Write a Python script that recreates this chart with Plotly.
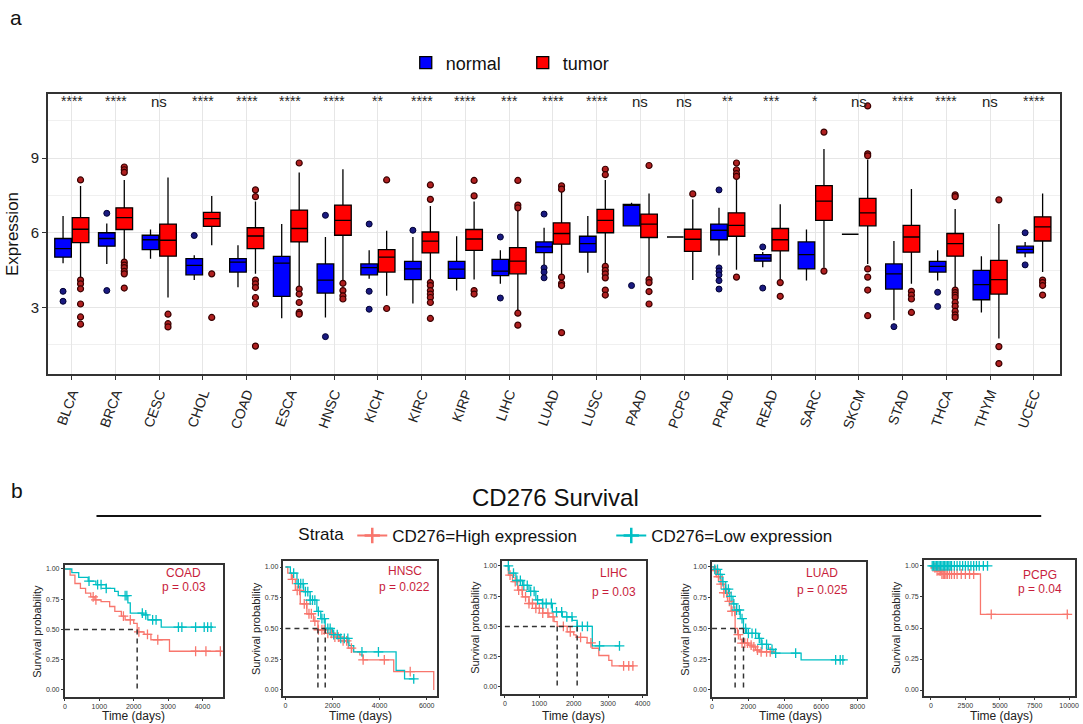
import plotly.graph_objects as go
import numpy as np

W, H = 1083, 724
def px(x): return x / W
def py(y): return 1 - y / H

FONT = "Liberation Sans, Arial, sans-serif"
NARROW = "Liberation Sans Narrow, Arial Narrow, Liberation Sans, sans-serif"

# ---------------- Panel a data ----------------
cats = ["BLCA", "BRCA", "CESC", "CHOL", "COAD", "ESCA", "HNSC", "KICH", "KIRC", "KIRP", "LIHC",
        "LUAD", "LUSC", "PAAD", "PCPG", "PRAD", "READ", "SARC", "SKCM", "STAD", "THCA", "THYM", "UCEC"]
signif = ["****", "****", "ns", "****", "****", "****", "****", "**", "****", "****", "***",
          "****", "****", "ns", "ns", "**", "***", "*", "ns", "****", "****", "ns", "****"]

normal_lo = [4.78, 4.75, 4.96, 4.10, 3.81, 2.57, 2.60, 4.15, 3.16, 3.68, 3.95, 4.71, 4.39, 6.28, 5.83, 5.09, 4.62, 4.08, 5.94, 2.49, 4.08, 2.80, 5.02]
normal_q1 = [5.02, 5.46, 5.32, 4.31, 4.42, 3.45, 3.58, 4.31, 4.12, 4.17, 4.28, 5.20, 5.22, 6.28, 5.83, 5.72, 4.86, 4.55, 5.94, 3.74, 4.42, 3.31, 5.19]
normal_med = [5.36, 5.77, 5.72, 4.69, 4.82, 4.78, 4.10, 4.60, 4.55, 4.54, 4.46, 5.43, 5.56, 7.10, 5.83, 6.10, 4.98, 5.12, 5.94, 4.35, 4.65, 3.92, 5.33]
normal_q3 = [5.77, 6.00, 5.90, 4.96, 4.96, 5.05, 4.75, 4.75, 4.85, 4.85, 4.93, 5.63, 5.86, 7.14, 5.83, 6.35, 5.12, 5.63, 5.94, 4.75, 4.85, 4.49, 5.46]
normal_hi = [6.67, 6.37, 6.13, 5.10, 5.50, 6.35, 5.83, 5.30, 5.83, 5.86, 5.30, 6.20, 6.67, 7.20, 5.83, 7.00, 5.23, 6.13, 5.94, 5.67, 5.30, 5.06, 5.63]
normal_out = [[3.65, 3.25], [6.78, 3.68], [], [5.89], [], [], [6.70, 1.83], [6.35, 3.65, 2.93],
              [6.10], [], [5.83, 3.38], [6.75, 4.59, 4.42, 4.19], [], [3.88], [],
              [7.72, 4.59, 4.46, 4.31, 4.08, 3.74], [5.43, 3.78], [], [], [2.23], [3.61, 3.04], [], [6.00, 4.71]]

tumor_lo = [4.20, 4.90, 3.40, 5.50, 4.35, 3.81, 4.08, 3.47, 4.05, 4.12, 2.87, 4.28, 4.73, 4.22, 4.10, 4.51, 4.08, 4.60, 4.75, 3.95, 3.78, 1.76, 4.42]
tumor_q1 = [5.60, 6.13, 5.06, 6.26, 5.36, 5.63, 5.90, 4.42, 5.19, 5.29, 4.35, 5.54, 6.00, 5.81, 5.25, 5.86, 5.27, 6.50, 6.28, 5.22, 5.06, 3.54, 5.67]
tumor_med = [6.14, 6.61, 5.70, 6.57, 5.87, 6.17, 6.50, 5.02, 5.66, 5.75, 4.86, 5.97, 6.50, 6.35, 5.74, 6.30, 5.72, 7.27, 6.80, 5.83, 5.56, 4.12, 6.24]
tumor_q3 = [6.61, 7.00, 6.35, 6.82, 6.20, 6.91, 7.11, 5.32, 6.03, 6.13, 5.40, 6.40, 6.94, 6.75, 6.14, 6.80, 6.17, 7.89, 7.38, 6.30, 5.97, 4.89, 6.64]
tumor_hi = [7.88, 8.12, 8.22, 7.48, 7.25, 8.42, 8.55, 6.08, 7.07, 7.25, 6.90, 7.65, 8.12, 7.58, 7.34, 8.15, 7.14, 9.36, 8.93, 7.76, 6.95, 6.35, 7.58]
tumor_out = [[8.12, 4.10, 3.95, 3.75, 3.14, 2.62, 2.33],
             [8.64, 8.53, 8.42, 4.82, 4.70, 4.60, 4.45, 4.35, 3.78],
             [2.73, 2.35, 2.22], [4.35, 2.60],
             [7.72, 7.45, 4.10, 3.95, 3.80, 3.40, 3.14, 1.45],
             [8.80, 3.74, 3.54, 3.20, 2.80, 2.73],
             [3.97, 3.68, 3.47, 3.34], [8.12, 2.96],
             [7.92, 7.34, 4.00, 3.88, 3.68, 3.54, 3.40, 3.20, 2.56],
             [8.10, 7.48, 3.68, 3.54], [8.10, 7.11, 7.00, 2.77, 2.29],
             [7.88, 7.75, 4.22, 3.97, 3.88, 1.99],
             [8.55, 8.33, 4.65, 4.49, 4.35, 4.19, 3.70, 3.50],
             [8.70, 4.12, 4.00, 3.64, 3.14], [7.56], [8.80, 8.53, 8.37, 8.26, 4.22],
             [4.00, 3.45], [10.04, 4.46], [11.09, 9.17, 9.09, 4.55, 4.22, 3.70, 2.67],
             [3.65, 3.50, 3.34, 2.80],
             [7.52, 7.45, 3.70, 3.60, 3.50, 3.40, 3.20, 3.05, 2.85, 2.70, 2.60],
             [7.32, 1.43, 0.75], [4.10, 4.00, 3.88, 3.50]]

# ---------------- Panel b data ----------------
surv_names = ["COAD", "HNSC", "LIHC", "LUAD", "PCPG"]
surv_pvals = ["p = 0.03", "p = 0.022", "p = 0.03", "p = 0.025", "p = 0.04"]

high_t = [
    [0, 150, 290, 450, 600, 750, 870, 1050, 1300, 1450, 1640, 1750, 2000, 2100, 2300, 2500, 3040, 4550],
    [0, 100, 250, 420, 630, 910, 1190, 1380, 1700, 2040, 2320, 2670, 2880, 3160, 3300, 4600, 6300],
    [0, 100, 220, 370, 510, 700, 900, 1100, 1280, 1430, 1520, 1810, 2000, 2070, 2390, 2535, 2730, 3020, 3110, 3740],
    [0, 100, 250, 450, 650, 850, 1050, 1270, 1400, 1550, 1650, 2000, 2200, 2400, 2600, 3300],
    [0, 60, 430, 790, 3590, 10000],
]
high_s = [
    [1.0, 0.95, 0.88, 0.84, 0.80, 0.77, 0.745, 0.73, 0.69, 0.65, 0.61, 0.58, 0.55, 0.48, 0.46, 0.415, 0.32, 0.32],
    [1.0, 0.95, 0.90, 0.81, 0.70, 0.62, 0.56, 0.49, 0.46, 0.43, 0.40, 0.34, 0.31, 0.285, 0.245, 0.15, 0.0],
    [1.0, 0.925, 0.87, 0.80, 0.745, 0.69, 0.65, 0.61, 0.58, 0.54, 0.50, 0.455, 0.43, 0.41, 0.365, 0.32, 0.26, 0.22, 0.175, 0.175],
    [1.0, 0.97, 0.92, 0.86, 0.79, 0.72, 0.64, 0.50, 0.45, 0.41, 0.38, 0.365, 0.35, 0.325, 0.31, 0.31],
    [1.0, 0.985, 0.96, 0.935, 0.61, 0.61],
]
low_t = [
    [0, 200, 400, 675, 900, 1200, 1446, 1550, 1830, 1900, 2265, 2410, 2800, 4300],
    [0, 210, 490, 770, 1050, 1335, 1500, 1690, 2000, 2300, 2700, 2900, 4700, 5060, 5480],
    [0, 125, 320, 510, 700, 900, 1090, 1380, 1670, 1960, 2100, 2540, 3350],
    [0, 150, 350, 550, 750, 950, 1150, 1350, 1550, 1730, 1900, 2550, 2700, 3100, 3400, 4900, 7300],
    [0, 4140],
]
low_s = [
    [1.0, 0.97, 0.93, 0.90, 0.87, 0.84, 0.815, 0.78, 0.72, 0.635, 0.62, 0.58, 0.52, 0.52],
    [1.0, 0.95, 0.865, 0.80, 0.73, 0.64, 0.58, 0.50, 0.45, 0.42, 0.36, 0.31, 0.16, 0.09, 0.09],
    [1.0, 0.94, 0.88, 0.84, 0.79, 0.72, 0.69, 0.62, 0.58, 0.55, 0.50, 0.34, 0.34],
    [1.0, 0.98, 0.94, 0.88, 0.82, 0.76, 0.70, 0.65, 0.58, 0.50, 0.46, 0.42, 0.37, 0.33, 0.30, 0.245, 0.245],
    [1.0, 1.0],
]
high_cens = [
    [820, 900, 1700, 1900, 2150, 2400, 2700, 3800, 4100, 4520],
    [300, 500, 600, 800, 900, 1000, 1100, 1250, 1400, 1550, 1650, 1800, 1950, 2100, 2250, 2450, 2600, 2800, 3300, 4200, 5300],
    [150, 300, 400, 500, 600, 700, 800, 900, 1000, 1100, 1250, 1400, 1700, 1900, 2200, 2500, 3450, 3600, 3720],
    [200, 350, 500, 650, 800, 950, 1100, 1250, 1450, 1650, 1800, 1950, 2150, 2300, 2500, 2700, 3000, 3200],
    [300, 450, 600, 700, 800, 900, 1000, 1100, 1200, 1350, 1500, 1700, 1900, 2200, 2500, 2800, 3100, 4370, 9870],
]
low_cens = [
    [700, 950, 1050, 1200, 1750, 1800, 2250, 2350, 2550, 2650, 3300, 3400, 3800, 4050, 4150, 4250],
    [350, 550, 650, 750, 850, 950, 1050, 1150, 1250, 1400, 1550, 1650, 1800, 1900, 2050, 2200, 2350, 2500, 2650, 3250, 3950, 5450],
    [100, 250, 350, 450, 550, 650, 750, 850, 950, 1100, 1200, 1350, 1500, 1650, 1800, 1950, 2100, 2250, 2400, 2750, 3330],
    [150, 300, 450, 600, 750, 900, 1050, 1200, 1350, 1500, 1650, 1850, 2000, 2200, 2400, 2600, 2750, 3000, 3300, 3500, 4600, 6800, 7050, 7200],
    [100, 200, 300, 400, 500, 600, 700, 800, 900, 1000, 1100, 1200, 1300, 1400, 1500, 1700, 1900, 2100, 2300, 2500, 2700, 2900, 3100, 3300, 3500, 3800, 4100],
]
medians = [[2100], [1380, 1690], [1520, 2100], [1270, 1730], []]
x_ticks = [[0, 1000, 2000, 3000, 4000], [0, 2000, 4000, 6000], [0, 1000, 2000, 3000, 4000],
           [0, 2000, 4000, 6000, 8000], [0, 2500, 5000, 7500, 10000]]
x_ranges = [[-9, 4590], [-85, 6420], [-78, 4113], [0, 8480], [-504, 10430]]
y_ticks = [0, 0.25, 0.5, 0.75, 1.0]

# layout geometry (pixels)
frames = [(63, 222, 565, 697), (283, 437, 561, 696), (503, 648, 561, 694), (714, 869, 562, 697), (927, 1079, 560, 696)]
y_ranges = [[-0.058, 1.033], [-0.049, 1.049], [-0.058, 1.041], [-0.057, 1.04], [-0.048, 1.048]]

RED = "#F8766D"
CYAN = "#00BFC4"
PCOL = "#C81E3C"

fig = go.Figure()

# ---------------- Panel a traces ----------------
xs = np.arange(len(cats))
fig.add_trace(go.Box(x=xs - 0.2, q1=normal_q1, median=normal_med, q3=normal_q3,
                     lowerfence=normal_lo, upperfence=normal_hi, width=0.38,
                     fillcolor="#0000FF", line=dict(color="black", width=1.3), whiskerwidth=0,
                     name="normal", boxpoints=False, xaxis="x", yaxis="y", legend="legend"))
fig.add_trace(go.Box(x=xs + 0.2, q1=tumor_q1, median=tumor_med, q3=tumor_q3,
                     lowerfence=tumor_lo, upperfence=tumor_hi, width=0.38,
                     fillcolor="#FF0000", line=dict(color="black", width=1.3), whiskerwidth=0,
                     name="tumor", boxpoints=False, xaxis="x", yaxis="y", legend="legend"))

nx, ny, tx, ty = [], [], [], []
for i in range(len(cats)):
    for v in normal_out[i]:
        nx.append(i - 0.2); ny.append(v)
    for v in tumor_out[i]:
        tx.append(i + 0.2); ty.append(v)
fig.add_trace(go.Scatter(x=nx, y=ny, mode="markers", showlegend=False, hoverinfo="skip",
                         marker=dict(size=6, color="#1A1A80", line=dict(color="#000033", width=1)),
                         xaxis="x", yaxis="y"))
fig.add_trace(go.Scatter(x=tx, y=ty, mode="markers", showlegend=False, hoverinfo="skip",
                         marker=dict(size=6, color="#B02020", line=dict(color="#3A0000", width=1.2)),
                         xaxis="x", yaxis="y"))

# ---------------- Panel b traces ----------------
def surv_at(t_arr, s_arr, t):
    idx = np.searchsorted(np.array(t_arr), np.array(t), side="right") - 1
    return list(np.array(s_arr)[idx])

for k in range(5):
    xa, ya = f"x{k + 2}", f"y{k + 2}"
    fig.add_trace(go.Scatter(x=high_t[k], y=high_s[k], mode="lines", line=dict(color=RED, width=1.3, shape="hv"),
                             showlegend=False, xaxis=xa, yaxis=ya, hoverinfo="skip"))
    fig.add_trace(go.Scatter(x=low_t[k], y=low_s[k], mode="lines", line=dict(color=CYAN, width=1.3, shape="hv"),
                             showlegend=False, xaxis=xa, yaxis=ya, hoverinfo="skip"))
    fig.add_trace(go.Scatter(x=high_cens[k], y=surv_at(high_t[k], high_s[k], high_cens[k]), mode="markers",
                             marker=dict(symbol="cross-thin", size=7, line=dict(color=RED, width=1.3)),
                             showlegend=False, xaxis=xa, yaxis=ya, hoverinfo="skip"))
    fig.add_trace(go.Scatter(x=low_cens[k], y=surv_at(low_t[k], low_s[k], low_cens[k]), mode="markers",
                             marker=dict(symbol="cross-thin", size=7, line=dict(color=CYAN, width=1.3)),
                             showlegend=False, xaxis=xa, yaxis=ya, hoverinfo="skip"))
    if medians[k]:
        mx = [0, max(medians[k])]
        my = [0.5, 0.5]
        for m in medians[k]:
            mx += [None, m, m]
            my += [None, 0.5, 0]
        fig.add_trace(go.Scatter(x=mx, y=my, mode="lines", line=dict(color="#333333", width=1.5, dash="5px,4px"),
                                 showlegend=False, xaxis=xa, yaxis=ya, hoverinfo="skip"))

# legend entries for strata
fig.add_trace(go.Scatter(x=[None], y=[None], mode="lines+markers", name="CD276=High expression",
                         line=dict(color=RED, width=2), marker=dict(symbol="cross-thin", size=11, line=dict(color=RED, width=2.5)),
                         legend="legend2", xaxis="x2", yaxis="y2"))
fig.add_trace(go.Scatter(x=[None], y=[None], mode="lines+markers", name="CD276=Low expression",
                         line=dict(color=CYAN, width=2), marker=dict(symbol="cross-thin", size=11, line=dict(color=CYAN, width=2.5)),
                         legend="legend2", xaxis="x2", yaxis="y2"))

# ---------------- Layout ----------------
layout = dict(
    width=W, height=H, margin=dict(l=0, r=0, t=0, b=0), autosize=False,
    paper_bgcolor="white", plot_bgcolor="white",
    font=dict(family=FONT, color="#222222"),
    showlegend=True,
    legend=dict(orientation="h", x=px(406), y=py(63), xanchor="left", yanchor="middle",
                font=dict(size=18, color="#111111"), bgcolor="rgba(0,0,0,0)", itemwidth=30,
                entrywidth=72, traceorder="normal"),
    legend2=dict(orientation="h", x=px(296), y=py(536), xanchor="left", yanchor="middle",
                 font=dict(size=17, family=NARROW, color="#111111"), bgcolor="rgba(0,0,0,0)",
                 entrywidth=214,
                 title=dict(text="Strata", font=dict(size=17, family=NARROW, color="#111111"))),
    xaxis=dict(domain=[px(46), px(1064)], range=[-0.55, 22.6], tickmode="array", tickvals=list(xs),
               ticktext=cats, tickangle=-70, ticks="outside", ticklen=4, tickcolor="#333333",
               tickfont=dict(size=14, color="#222222"), showgrid=True, gridcolor="#E6E6E6", gridwidth=1.2,
               showline=True, linecolor="#333333", linewidth=1.5, mirror=True, zeroline=False, anchor="y"),
    yaxis=dict(domain=[py(374), py(94)], range=[0.33, 11.57], tickmode="linear", tick0=0, dtick=3,
               ticks="outside", ticklen=4, tickcolor="#333333", tickfont=dict(size=15, color="#222222"),
               showgrid=True, gridcolor="#E6E6E6", gridwidth=1.2,
               minor=dict(dtick=1.5, tick0=0, showgrid=True, gridcolor="#F0F0F0", gridwidth=1, ticks=""),
               showline=True, linecolor="#333333", linewidth=1.5, mirror=True, zeroline=False, anchor="x",
               title=dict(text="Expression", font=dict(size=17, color="#111111"), standoff=8)),
)

annotations = []
shapes = []
for i, s in enumerate(signif):
    annotations.append(dict(x=i, y=py(101), xref="x", yref="paper", text=s, showarrow=False,
                            font=dict(size=15 if s == "ns" else 14, color="#222222"), xanchor="center", yanchor="middle"))

annotations.append(dict(x=px(6), y=py(18), xref="paper", yref="paper", text="a", showarrow=False,
                        font=dict(size=21, color="#111111"), xanchor="left", yanchor="middle"))
annotations.append(dict(x=px(7), y=py(490), xref="paper", yref="paper", text="b", showarrow=False,
                        font=dict(size=21, color="#111111"), xanchor="left", yanchor="middle"))
annotations.append(dict(x=px(557), y=py(497), xref="paper", yref="paper", text="CD276 Survival", showarrow=False,
                        font=dict(size=24, family=NARROW, color="#111111"), xanchor="center", yanchor="middle"))
shapes.append(dict(type="line", xref="paper", yref="paper", x0=px(95), x1=px(1045), y0=py(516), y1=py(516),
                   line=dict(color="#111111", width=2.2)))

label_pos = [(183, 573, 587), (405, 571, 587), (615, 573, 592), (825, 573, 590), (1044, 575, 589)]
time_cx = [132, 360, 575, 793, 1005]
for k in range(5):
    l, r, t, b = frames[k]
    layout[f"xaxis{k + 2}"] = dict(domain=[px(l), px(r)], range=x_ranges[k], tickmode="array", tickvals=x_ticks[k],
                                   ticktext=[str(v) for v in x_ticks[k]],
                                   ticks="outside", ticklen=2, tickcolor="#333333", tickfont=dict(size=7, color="#333333"),
                                   showgrid=False, zeroline=False, showline=True, linecolor="#333333", linewidth=1.5,
                                   mirror=True, anchor=f"y{k + 2}")
    layout[f"yaxis{k + 2}"] = dict(domain=[py(b), py(t)], range=y_ranges[k], tickmode="array",
                                   tickvals=y_ticks, ticktext=[f"{v:.2f}" for v in y_ticks],
                                   ticks="outside", ticklen=2, tickcolor="#333333", tickfont=dict(size=7, color="#333333"),
                                   showgrid=False, zeroline=False, showline=True, linecolor="#333333", linewidth=1.5,
                                   mirror=True, anchor=f"x{k + 2}")
    annotations.append(dict(x=px(l - 28), y=py((t + b) / 2), xref="paper", yref="paper", text="Survival probability",
                            textangle=-90, showarrow=False, font=dict(size=11, color="#222222"),
                            xanchor="center", yanchor="middle"))
    annotations.append(dict(x=px(time_cx[k]), y=py(716), xref="paper", yref="paper", text="Time (days)",
                            showarrow=False, font=dict(size=12, color="#222222"), xanchor="center", yanchor="middle"))
    lx, ly1, ly2 = label_pos[k]
    annotations.append(dict(x=px(lx), y=py(ly1), xref="paper", yref="paper", text=surv_names[k], showarrow=False,
                            font=dict(size=12, color=PCOL), xanchor="center", yanchor="middle"))
    annotations.append(dict(x=px(lx), y=py(ly2), xref="paper", yref="paper", text=surv_pvals[k], showarrow=False,
                            font=dict(size=12, color=PCOL), xanchor="center", yanchor="middle"))

layout["annotations"] = annotations
layout["shapes"] = shapes
fig.update_layout(**layout)

fig.write_html("out.html")
